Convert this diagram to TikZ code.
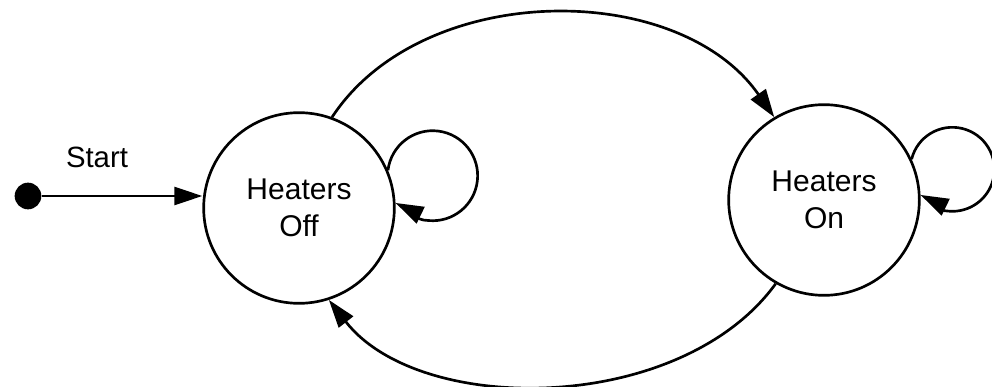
\documentclass[tikz,border=0pt]{standalone}
\usepackage{fontspec}
\setmainfont{Liberation Sans}
\usetikzlibrary{arrows.meta}
\tikzset{
  heaterstate/.style={circle, draw, line width=2pt, minimum size=143pt, inner sep=0pt,
    align=center, font=\fontsize{22.5}{27.5}\selectfont},
  trans/.style={line width=2pt, -{Triangle[length=21pt,width=13.5pt]}},
  label text/.style={font=\fontsize{22}{27}\selectfont}
}
\begin{document}
\begin{tikzpicture}[x=0.75pt,y=0.75pt]
  \useasboundingbox (0,0) rectangle (992,386);

  \node[heaterstate] (off) at (299,178) {Heaters\\Off};
  \node[heaterstate] (on) at (824,186) {Heaters\\On};

  \node[circle, fill, minimum size=20pt, inner sep=0pt] (start) at (28,190) {};
  \node[label text] (startlabel) at (97,229) {Start};
  \draw [trans] (start) -- (off.west |- start);

  \draw [trans] (off.70) .. controls +(90,137) and +(-96,138) .. (on.121);
  \draw [trans] (on.-120) .. controls +(-95,-131) and +(91,-117) .. (off.-72);

  % self loops
  \draw [trans] (off.23) arc[start angle=173, end angle=-95, radius=45]
    to[out=180, in=-26] (off.3);
  \draw [trans] (on.25) arc[start angle=166, end angle=-95, radius=42]
    to[out=180, in=-26] (on.3);
\end{tikzpicture}
\end{document}
